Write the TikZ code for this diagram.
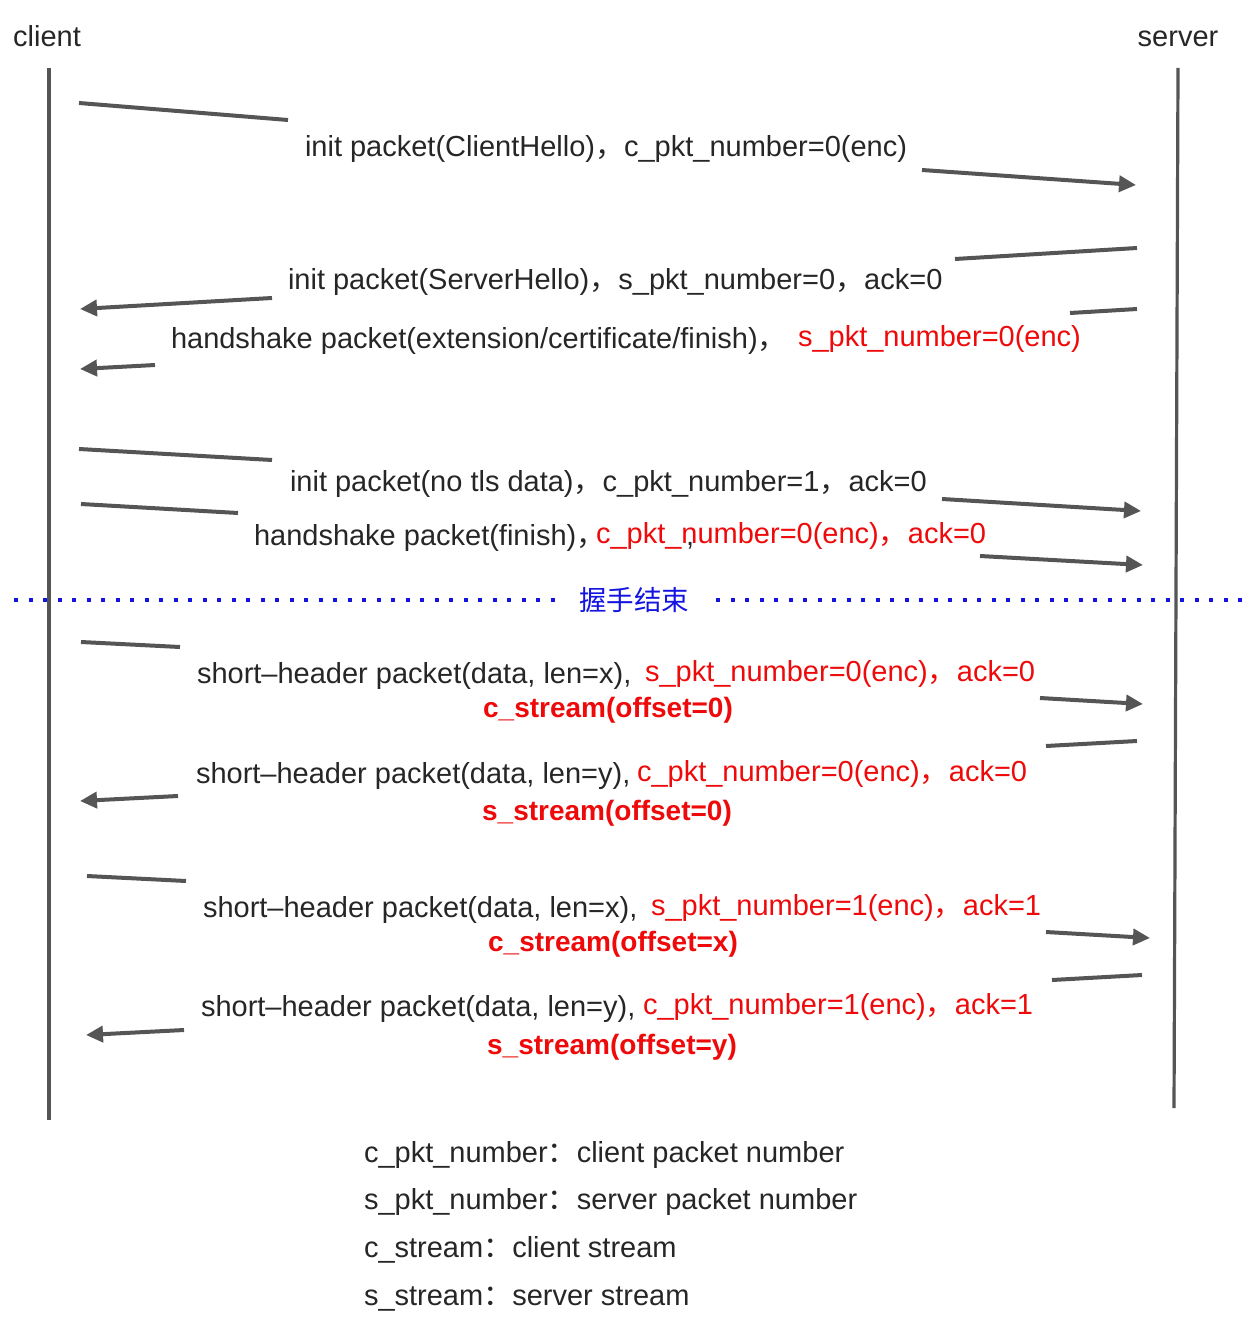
\documentclass[tikz,border=0pt]{standalone}
\usepackage{fontspec}
\setmainfont{Liberation Sans}
\newfontfamily\cjk{Noto Sans CJK SC}
\usetikzlibrary{arrows.meta}

\definecolor{txt}{RGB}{38,38,38}
\definecolor{wire}{RGB}{85,85,85}
\definecolor{hot}{RGB}{238,10,10}
\definecolor{sep}{RGB}{20,20,225}

\newcommand{\fw}{{\cjk ，}}
\newcommand{\fc}{{\cjk ：}}

\begin{document}
\begin{tikzpicture}[x=1pt,y=-1pt,
  every node/.style={inner sep=0pt,outer sep=0pt,font=\fontsize{29}{34}\selectfont},
  lbl/.style={anchor=base west,text=txt},
  redlbl/.style={anchor=base west,text=hot},
  strm/.style={anchor=base,text=hot,font=\fontsize{28}{34}\selectfont\bfseries},
  lifeline/.style={draw=wire,line width=3.2pt},
  seg/.style={draw=wire,line width=4pt},
  msg/.style={draw=wire,line width=4pt,-{Triangle[length=17pt,width=16pt]}},
  handshakeend/.style={draw=sep,line width=4pt,dash pattern=on 4pt off 10.5pt}]

\useasboundingbox (0,0) rectangle (1257,1329);

% participants
\node[anchor=base,text=txt] (client) at (47,47) {client};
\node[anchor=base,text=txt] (server) at (1178,47) {server};

\coordinate (ctop) at (49,68);   \coordinate (cbot) at (49,1120);
\coordinate (stop) at (1178,68); \coordinate (sbot) at (1174,1108);
\draw[lifeline] (ctop) -- (cbot);
\draw[lifeline] (stop) -- (sbot);

% 1: client -> server
\coordinate (a1) at (79,103);   \coordinate (b1) at (288,120);
\coordinate (c1) at (922,170);  \coordinate (d1) at (1136,185);
\draw[seg] (a1) -- (b1);
\draw[msg] (c1) -- (d1);
\node[lbl] (m1) at (305,157) {init packet(ClientHello)\fw c\_pkt\_number=0(enc)};

% 2: server -> client
\coordinate (a2) at (1137,248); \coordinate (b2) at (955,259);
\coordinate (c2) at (272,298);  \coordinate (d2) at (80,309);
\draw[seg] (a2) -- (b2);
\draw[msg] (c2) -- (d2);
\node[lbl] (m2) at (288,290) {init packet(ServerHello)\fw s\_pkt\_number=0\fw ack=0};

% 3: server -> client
\coordinate (a3) at (1137,309); \coordinate (b3) at (1070,313);
\coordinate (c3) at (155,365);  \coordinate (d3) at (80,369);
\draw[seg] (a3) -- (b3);
\draw[msg] (c3) -- (d3);
\node[lbl] (m3) at (171,348) {handshake packet(extension/certificate/finish)\fw};
\node[redlbl] (m3r) at (798,346) {s\_pkt\_number=0(enc)};

% 4: client -> server
\coordinate (a4) at (79,449);   \coordinate (b4) at (272,460);
\coordinate (c4) at (942,499);  \coordinate (d4) at (1141,511);
\draw[seg] (a4) -- (b4);
\draw[msg] (c4) -- (d4);
\node[lbl] (m4) at (290,491) {init packet(no tls data)\fw c\_pkt\_number=1\fw ack=0};

% 5: client -> server
\coordinate (a5) at (81,504);   \coordinate (b5) at (238,513);
\coordinate (c5) at (980,556);  \coordinate (d5) at (1143,565);
\draw[seg] (a5) -- (b5);
\draw[msg] (c5) -- (d5);
\node[lbl] (m5) at (254,545) {handshake packet(finish)\fw};
\node[redlbl] (m5r) at (596,543) {c\_pkt\_number=0(enc)\fw ack=0};
\node[lbl] (m5c) at (686,545) {,};

% end of handshake
\coordinate (h1) at (14,600);  \coordinate (h2) at (562,600);
\coordinate (h3) at (716,600); \coordinate (h4) at (1250,600);
\draw[handshakeend] (h1) -- (h2);
\draw[handshakeend] (h3) -- (h4);
\node[text=sep,font=\cjk\fontsize{27.5}{32}\selectfont] (hsend) at (634,600) {握手结束};

% 6: client -> server
\coordinate (a6) at (81,642);   \coordinate (b6) at (180,647);
\coordinate (c6) at (1040,698); \coordinate (d6) at (1143,704);
\draw[seg] (a6) -- (b6);
\draw[msg] (c6) -- (d6);
\node[lbl] (m6) at (197,683) {short–header packet(data, len=x),};
\node[redlbl] (m6r) at (645,681) {s\_pkt\_number=0(enc)\fw ack=0};
\node[strm] (m6s) at (608,717) {c\_stream(offset=0)};

% 7: server -> client
\coordinate (a7) at (1137,741); \coordinate (b7) at (1046,746);
\coordinate (c7) at (178,796);  \coordinate (d7) at (80,801);
\draw[seg] (a7) -- (b7);
\draw[msg] (c7) -- (d7);
\node[lbl] (m7) at (196,783) {short–header packet(data, len=y),};
\node[redlbl] (m7r) at (637,781) {c\_pkt\_number=0(enc)\fw ack=0};
\node[strm] (m7s) at (607,820) {s\_stream(offset=0)};

% 8: client -> server
\coordinate (a8) at (87,876);   \coordinate (b8) at (186,881);
\coordinate (c8) at (1046,932); \coordinate (d8) at (1150,938);
\draw[seg] (a8) -- (b8);
\draw[msg] (c8) -- (d8);
\node[lbl] (m8) at (203,917) {short–header packet(data, len=x),};
\node[redlbl] (m8r) at (651,915) {s\_pkt\_number=1(enc)\fw ack=1};
\node[strm] (m8s) at (613,951) {c\_stream(offset=x)};

% 9: server -> client
\coordinate (a9) at (1142,975); \coordinate (b9) at (1052,980);
\coordinate (c9) at (184,1030); \coordinate (d9) at (86,1035);
\draw[seg] (a9) -- (b9);
\draw[msg] (c9) -- (d9);
\node[lbl] (m9) at (201,1016) {short–header packet(data, len=y),};
\node[redlbl] (m9r) at (643,1014) {c\_pkt\_number=1(enc)\fw ack=1};
\node[strm] (m9s) at (612,1054) {s\_stream(offset=y)};

% legend
\node[lbl] (k1) at (364,1162) {c\_pkt\_number\fc client packet number};
\node[lbl] (k2) at (364,1209) {s\_pkt\_number\fc server packet number};
\node[lbl] (k3) at (364,1257) {c\_stream\fc client stream};
\node[lbl] (k4) at (364,1305) {s\_stream\fc server stream};
\end{tikzpicture}
\end{document}
